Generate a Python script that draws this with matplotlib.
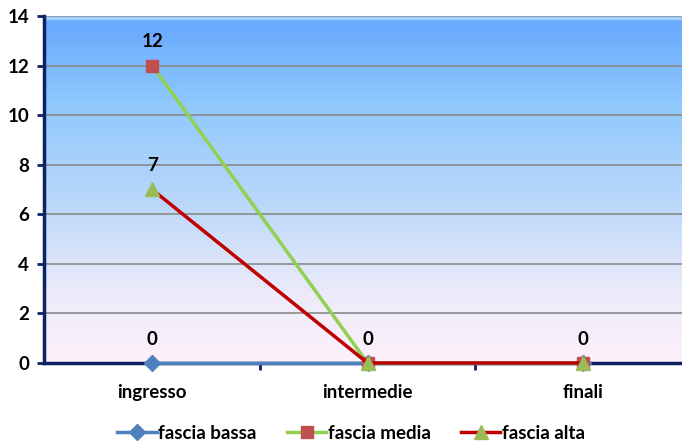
import matplotlib.pyplot as plt
import numpy as np
from matplotlib.colors import LinearSegmentedColormap

# dati
categorie = ["ingresso", "intermedie", "finali"]
fascia_bassa = [0, 0, 0]
fascia_media = [12, 0, 0]
fascia_alta = [7, 0, 0]

plt.rcParams['font.family'] = ['Lato', 'DejaVu Sans']
FS = 13.5

fig = plt.figure(figsize=(6.82, 4.43), dpi=100)
ax = fig.add_axes([0.0652, 0.1806, 0.9476, 0.7833])

x = np.arange(len(categorie))

# sfondo sfumato (blu in alto, rosa chiaro in basso)
cmap = LinearSegmentedColormap.from_list(
    "sfondo",
    [(0.0, "#fdf1fb"), (0.2, "#ecebf9"), (0.45, "#bcd8fa"),
     (0.75, "#8ec8fd"), (1.0, "#66a6fe")])
grad = np.linspace(0, 1, 256).reshape(-1, 1)
ax.imshow(grad, cmap=cmap, origin="lower", aspect="auto",
          extent=[0, 1, 0, 1], transform=ax.transAxes, zorder=0)
ax.axhline(13.9, color="#9fd0ff", linewidth=2.5, zorder=1)

# griglia
ax.set_ylim(0, 14)
ax.set_xlim(-0.5, 2.5)
ax.set_yticks(range(0, 15, 2))
ax.grid(axis="y", color="#8a8a8a", linewidth=1.2, zorder=1)
ax.set_axisbelow(True)

# serie
ax.plot(x, fascia_bassa, color="#4f81bd", linewidth=2.5, marker="D",
        markersize=8, markerfacecolor="#4f81bd", markeredgecolor="#4f81bd",
        label="fascia bassa", zorder=3, clip_on=False)
ax.plot(x, fascia_media, color="#92d050", linewidth=2.5, marker="s",
        markersize=9, markerfacecolor="#c0504d", markeredgecolor="#c0504d",
        label="fascia media", zorder=4, clip_on=False)
ax.plot(x, fascia_alta, color="#c00000", linewidth=2.5, marker="^",
        markersize=10, markerfacecolor="#9bbb59", markeredgecolor="#9bbb59",
        label="fascia alta", zorder=5, clip_on=False)

# etichette dati
visti = set()
for serie in (fascia_bassa, fascia_media, fascia_alta):
    for xi, v in zip(x, serie):
        if (xi, v) in visti:
            continue
        visti.add((xi, v))
        ax.annotate(str(v), (xi, v), xytext=(0, 11), textcoords="offset points",
                    ha="center", va="bottom", fontsize=FS, fontweight="bold",
                    zorder=6)

# assi
for s in ("top", "right"):
    ax.spines[s].set_visible(False)
for s in ("left", "bottom"):
    ax.spines[s].set_color("#0b2263")
    ax.spines[s].set_linewidth(2.5)
ax.spines["bottom"].set_zorder(2)
ax.tick_params(axis="y", length=5, width=2, color="#0b2263", labelsize=FS, pad=6)
ax.set_yticklabels([str(v) for v in range(0, 15, 2)], fontweight="bold")
ax.set_xticks(x)
ax.set_xticklabels(categorie, fontweight="bold", fontsize=FS)
ax.tick_params(axis="x", length=0, pad=15)
ax.set_xticks([0.5, 1.5], minor=True)
ax.tick_params(axis="x", which="minor", length=5, width=2, color="#0b2263")

leg = fig.legend(loc="center", bbox_to_anchor=(0.515, 0.022), ncol=3, frameon=False,
                 prop={"weight": "bold", "size": FS}, handlelength=2.1,
                 handletextpad=0.1, columnspacing=1.6)

fig.savefig("out.png", dpi=100)
